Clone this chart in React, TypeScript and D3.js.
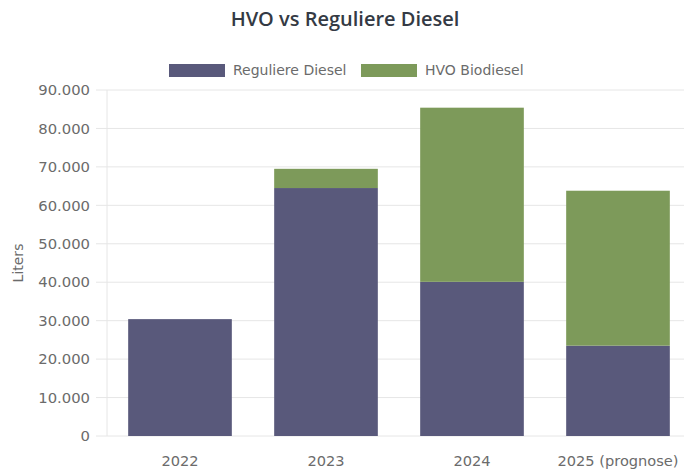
import React, { useRef, useEffect } from 'react';
import * as d3 from 'd3';

const years = ['2022', '2023', '2024', '2025 (prognose)'];
const regularDiesel = [30400, 64500, 40100, 23500];
const hvoBiodiesel = [0, 5000, 45300, 40300];
const seriesNames = ['Reguliere Diesel', 'HVO Biodiesel'];
const seriesColors = ['#59597b', '#7d9a5a'];
const yTicks = [0, 10000, 20000, 30000, 40000, 50000, 60000, 70000, 80000, 90000];

const App = () => {
  const svgRef = useRef<SVGSVGElement>(null);

  useEffect(() => {
    document.body.style.margin = '0';
    const width = 684;
    const height = 470;
    const margin = { top: 90, right: -7, bottom: 34, left: 107 };
    const font = '"DejaVu Sans", Verdana, sans-serif';

    const svg = d3.select(svgRef.current);
    svg.selectAll('*').remove();

    const x = d3.scaleBand()
      .domain(years)
      .range([margin.left, width - margin.right])
      .paddingInner(0.29)
      .paddingOuter(0.145);

    const y = d3.scaleLinear()
      .domain([0, 90000])
      .range([height - margin.bottom, margin.top]);

    const fmt = (v: number) => d3.format(',')(v).replace(/,/g, '.');

    // title
    svg.append('text')
      .attr('x', 345)
      .attr('y', 26)
      .attr('text-anchor', 'middle')
      .style('font-family', '"Open Sans", sans-serif')
      .style('font-weight', '600')
      .style('font-size', '20px')
      .style('fill', '#343a44')
      .text('HVO vs Reguliere Diesel');

    // grid + y ticks
    const grid = svg.append('g');
    yTicks.forEach((t) => {
      grid.append('line')
        .attr('x1', 96)
        .attr('x2', width)
        .attr('y1', y(t))
        .attr('y2', y(t))
        .style('stroke', '#e6e6e6')
        .style('stroke-width', 1);
      grid.append('text')
        .attr('x', 90)
        .attr('y', y(t))
        .attr('dy', '0.35em')
        .attr('text-anchor', 'end')
        .style('font-family', font)
        .style('font-size', '14.8px')
        .style('fill', '#6b6b6b')
        .text(fmt(t));
    });
    grid.append('line')
      .attr('x1', margin.left)
      .attr('x2', margin.left)
      .attr('y1', y(90000))
      .attr('y2', y(0))
      .style('stroke', '#e6e6e6');

    // y label
    svg.append('text')
      .attr('transform', `translate(23,${(y(0) + y(90000)) / 2}) rotate(-90)`)
      .attr('text-anchor', 'middle')
      .style('font-family', font)
      .style('font-size', '14px')
      .style('fill', '#6b6b6b')
      .text('Liters');

    // stacked bars
    const rows = years.map((yr, i) => ({ year: yr, reg: regularDiesel[i], hvo: hvoBiodiesel[i] }));
    const stack = d3.stack<any>().keys(['reg', 'hvo'])(rows);

    stack.forEach((layer, li) => {
      svg.append('g')
        .selectAll('rect')
        .data(layer)
        .enter()
        .append('rect')
        .attr('x', (d) => x(d.data.year)!)
        .attr('width', x.bandwidth())
        .attr('y', (d) => y(d[1]))
        .attr('height', (d) => y(d[0]) - y(d[1]))
        .style('fill', seriesColors[li]);
    });

    // x labels
    years.forEach((yr) => {
      svg.append('text')
        .attr('x', x(yr)! + x.bandwidth() / 2)
        .attr('y', 466)
        .attr('text-anchor', 'middle')
        .style('font-family', font)
        .style('font-size', '14.6px')
        .style('fill', '#6b6b6b')
        .text(yr);
    });

    // legend
    const legendItems = [
      { box: 169, text: 233 },
      { box: 361, text: 425 },
    ];
    legendItems.forEach((it, i) => {
      svg.append('rect')
        .attr('x', it.box)
        .attr('y', 64)
        .attr('width', 56)
        .attr('height', 13)
        .style('fill', seriesColors[i]);
      svg.append('text')
        .attr('x', it.text)
        .attr('y', 75)
        .style('font-family', font)
        .style('font-size', '14px')
        .style('fill', '#6b6b6b')
        .text(seriesNames[i]);
    });
  }, []);

  return <svg ref={svgRef} width={684} height={470} style={{ display: 'block' }} />;
};

export default App;
